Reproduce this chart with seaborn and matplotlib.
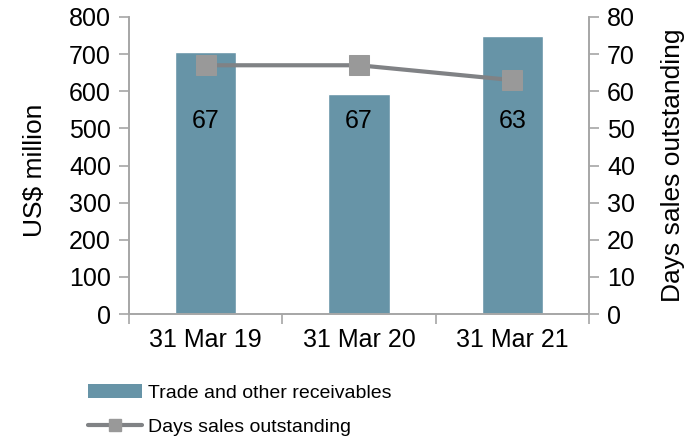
import matplotlib
matplotlib.use("Agg")
import matplotlib.pyplot as plt
import seaborn as sns
import numpy as np
import pandas as pd
from matplotlib.patches import Patch
from matplotlib.lines import Line2D
from matplotlib.ticker import FixedLocator

# Data
periods = ["31 Mar 19", "31 Mar 20", "31 Mar 21"]
receivables = [706, 592, 750]          # US$ million
dso_days = [67, 67, 63]                # days sales outstanding

sns.set_theme(style="white")
plt.rcParams["font.family"] = ["Liberation Sans", "DejaVu Sans"]
plt.rcParams["text.color"] = "black"
plt.rcParams["axes.labelcolor"] = "black"

BAR_COLOR = "#6794a7"
LINE_COLOR = "#808285"
MARKER_COLOR = "#999999"
AXIS_GRAY = "#a6a6a6"
TICK_FS = 18
LABEL_FS = 19
LEGEND_FS = 14

fig = plt.figure(figsize=(6.86, 4.41), dpi=100)
ax = fig.add_axes([129 / 686, 1 - 314 / 441, 460 / 686, 297 / 441])

df = pd.DataFrame({"period": periods, "receivables": receivables})
sns.barplot(data=df, x="period", y="receivables", color=BAR_COLOR,
            saturation=1, width=0.4, ax=ax)

ax.set_ylim(0, 800)
ax.set_xlim(-0.5, 2.5)
ax.set_yticks(np.arange(0, 801, 100))
ax.set_xlabel("")
ax.set_ylabel("US$ million", fontsize=LABEL_FS)
ax.yaxis.set_label_coords(-0.178, 0.485)

ax2 = ax.twinx()
pos = np.arange(len(periods))
sns.lineplot(x=pos, y=dso_days, ax=ax2, color=LINE_COLOR, lw=3,
             marker="s", markersize=14, markerfacecolor=MARKER_COLOR,
             markeredgecolor=MARKER_COLOR, legend=False)
ax2.set_ylim(0, 80)
ax2.set_yticks(np.arange(0, 81, 10))
ax2.set_ylabel("Days sales outstanding", fontsize=LABEL_FS, labelpad=19)
ax2.set_xlim(-0.5, 2.5)

# value labels sit on a common row inside the bars
label_tf = ax2.get_xaxis_transform()
for x, v in zip(pos, dso_days):
    ax2.text(x, 0.65, f"{v}", transform=label_tf, ha="center", va="center",
             fontsize=TICK_FS, color="black")

for a in (ax, ax2):
    for side, sp in a.spines.items():
        sp.set_color(AXIS_GRAY)
        sp.set_linewidth(1.2)
    a.spines["top"].set_visible(False)
    a.tick_params(axis="y", length=7, width=1.2, color=AXIS_GRAY,
                  labelsize=TICK_FS, labelcolor="black", pad=6)
    a.grid(False)

# category boundary ticks on the x axis
ax.tick_params(axis="x", which="major", length=0, labelsize=TICK_FS,
               labelcolor="black", pad=10)
ax.xaxis.set_minor_locator(FixedLocator([-0.5, 0.5, 1.5, 2.5]))
ax.tick_params(axis="x", which="minor", bottom=True, length=7, width=1.2,
               color=AXIS_GRAY, direction="out")

handles = [
    Patch(facecolor=BAR_COLOR, edgecolor="none"),
    Line2D([0], [0], color=LINE_COLOR, lw=3, marker="s", markersize=9,
           markerfacecolor=MARKER_COLOR, markeredgecolor=MARKER_COLOR),
]
fig.legend(handles, ["Trade and other receivables", "Days sales outstanding"],
           loc="upper left", bbox_to_anchor=(88 / 686, 1 - 384 / 441),
           frameon=False, fontsize=LEGEND_FS, borderpad=0, borderaxespad=0,
           handlelength=2.8, handleheight=0.7, handletextpad=0.3,
           labelspacing=0.85, labelcolor="black")

fig.savefig("out.png", dpi=100)
